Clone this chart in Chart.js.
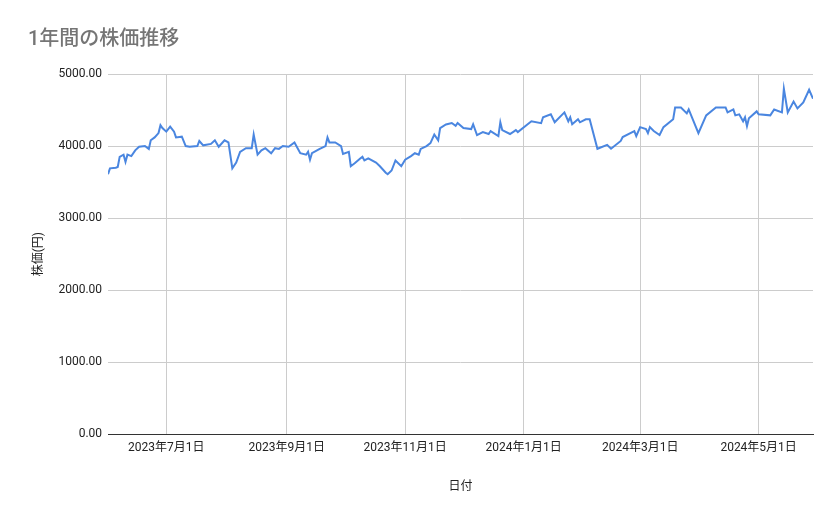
<!DOCTYPE html>
<html>
<head>
<meta charset="utf-8">
<script src="https://cdn.jsdelivr.net/npm/chart.js@4"></script>
<style>
  body { margin: 0; background: #fff; }
  #wrap { width: 839px; height: 519px; }
</style>
</head>
<body>
<div id="wrap"><canvas id="chart1"></canvas></div>
<script>
// days counted from 2023-06-01
const days = [0,1,4,5,6,8,9,10,12,14,16,19,21,22,24,26,27,28,30,32,34,35,38,40,42,46,47,49,53,55,57,60,62,64,66,68,71,74,75,77,79,81,84,86,88,90,93,96,99,102,103,104,105,109,112,113,114,117,120,121,124,125,127,130,131,132,134,138,140,143,144,146,148,151,153,156,158,160,161,164,166,168,170,171,174,177,179,180,
  183,187,188,190,193,196,197,201,202,203,207,210,211,218,223,224,228,230,235,237,238,239,242,243,246,248,252,257,259,264,265,271,272,274,277,278,279,281,284,286,291,292,295,298,299,304,308,313,318,319,322,323,325,327,328,329,330,334,335,341,343,347,348,350,353,355,358,361,363];
const prices = [3610,3690,3700,3710,3850,3880,3780,3880,3860,3940,3990,4000,3960,4080,4120,4180,4290,4250,4200,4270,4200,4120,4130,4000,3990,4000,4070,4010,4030,4080,3990,4080,4050,3690,3770,3920,3970,3970,4160,3880,3940,3970,3900,3970,3960,4000,3990,4050,3900,3880,3920,3810,3900,3960,4000,4120,4050,4050,4000,3890,3920,3720,3760,3830,3850,3800,3830,3770,3720,3630,3610,3660,3800,3720,3810,3860,3900,3880,3960,4000,4040,4160,4080,4250,4300,4320,4280,4320,
  4250,4235,4303,4153,4194,4167,4208,4139,4330,4221,4167,4221,4194,4344,4317,4399,4440,4330,4467,4344,4399,4303,4372,4330,4372,4372,3962,4016,3962,4071,4125,4208,4139,4262,4235,4180,4262,4208,4153,4262,4372,4535,4535,4453,4508,4180,4426,4535,4535,4467,4508,4426,4440,4344,4399,4276,4385,4481,4440,4426,4508,4467,4795,4467,4617,4522,4604,4781,4658];

const tickDays = [30, 92, 153, 214, 274, 335];
const tickLabels = ['2023年7月1日', '2023年9月1日', '2023年11月1日', '2024年1月1日', '2024年3月1日', '2024年5月1日'];

const points = days.map((d, i) => ({ x: d, y: prices[i] }));
const font = 'Roboto, "Noto Sans CJK JP", sans-serif';

new Chart(document.getElementById('chart1'), {
  type: 'line',
  data: {
    datasets: [{
      label: '株価',
      data: points,
      borderColor: '#4a86e0',
      borderWidth: 2,
      pointRadius: 0,
      tension: 0,
      fill: false
    }]
  },
  options: {
    responsive: true,
    maintainAspectRatio: false,
    animation: false,
    layout: { padding: { left: 28, right: 26, top: 12, bottom: 21 } },
    plugins: {
      legend: { display: false },
      tooltip: { enabled: false },
      title: {
        display: true,
        text: '1年間の株価推移',
        align: 'start',
        color: '#757575',
        font: { family: font, size: 20, weight: '500' },
        padding: { top: 16, bottom: 22 }
      }
    },
    scales: {
      x: {
        type: 'linear',
        min: 0,
        max: 363,
        afterBuildTicks: (axis) => { axis.ticks = tickDays.map(v => ({ value: v })); },
        ticks: {
          autoSkip: false,
          maxRotation: 0,
          color: '#222',
          padding: 7,
          font: { family: font, size: 12 },
          callback: (v) => tickLabels[tickDays.indexOf(v)]
        },
        grid: { color: '#cccccc', drawTicks: false },
        border: { color: '#333' },
        title: { display: true, text: '日付', color: '#222', font: { family: font, size: 12 }, padding: { top: 17 } }
      },
      y: {
        min: 0,
        max: 5000,
        ticks: {
          stepSize: 1000,
          color: '#222',
          padding: 6,
          font: { family: font, size: 12 },
          callback: (v) => v.toFixed(2)
        },
        grid: { color: '#cccccc', drawTicks: false },
        border: { display: false },
        title: { display: true, text: '株価(円)', color: '#222', font: { family: font, size: 12 }, padding: { bottom: 6 } }
      }
    }
  }
});
</script>
</body>
</html>
